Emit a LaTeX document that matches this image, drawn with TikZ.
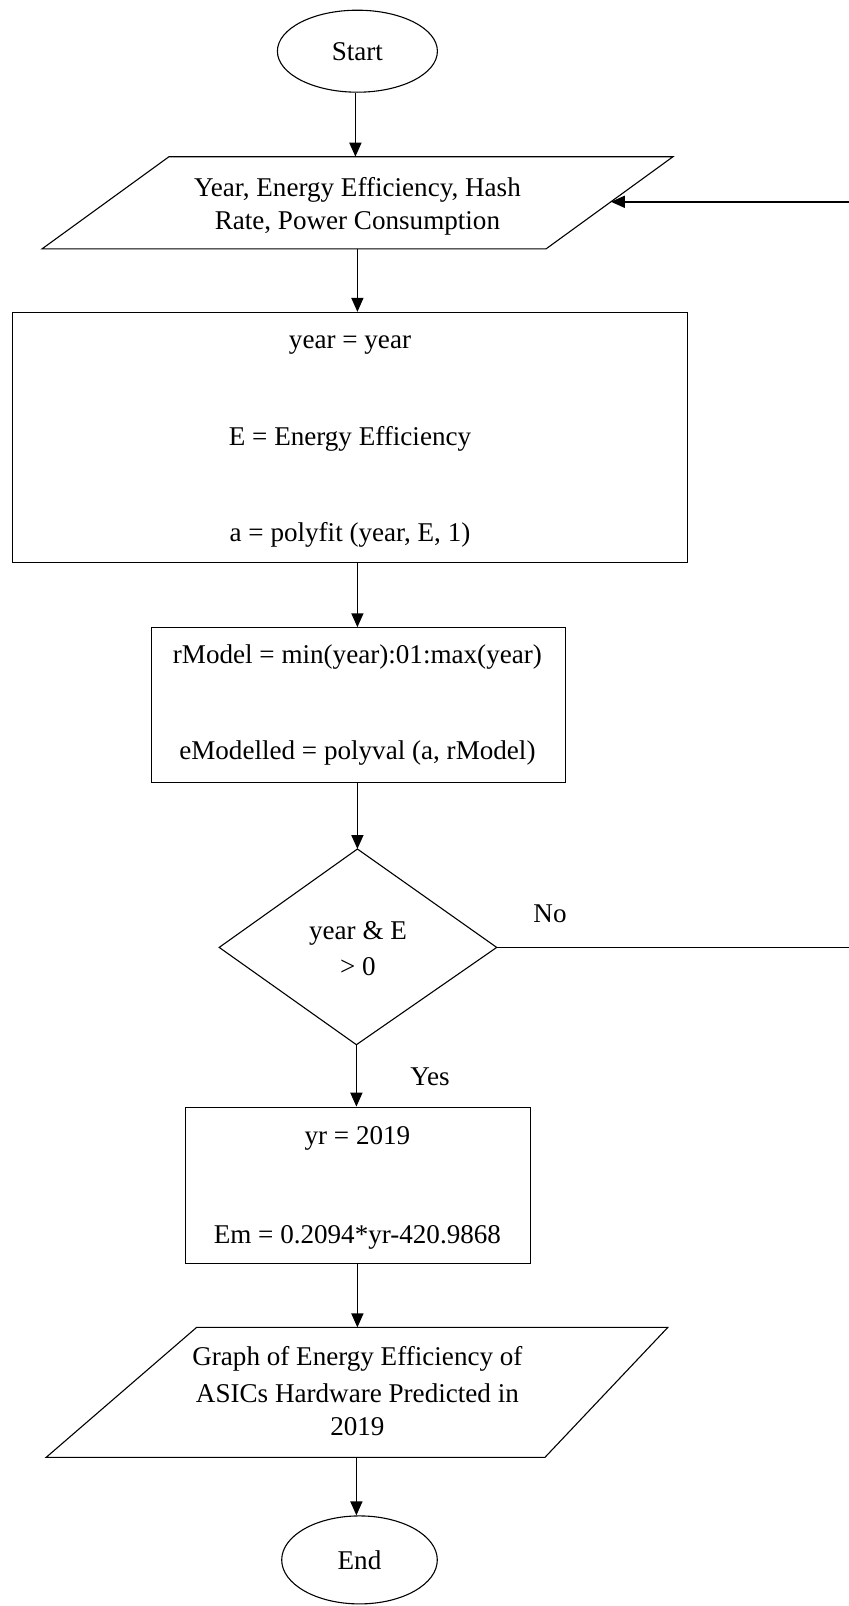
\documentclass[tikz,border=0pt]{standalone}
\usepackage{fontspec}
\setmainfont{Liberation Serif}
\usetikzlibrary{shapes.geometric,arrows.meta}
\begin{document}
\begin{tikzpicture}[x=0.5pt,y=-0.5pt,
  shp/.style={draw=black,line width=0.55pt},
  arr/.style={draw=black,line width=0.8pt,-{Triangle[length=7pt,width=6pt]}},
  lne/.style={draw=black,line width=0.8pt},
  txt/.style={inner sep=0pt,yshift=-2pt,font=\fontsize{13.55pt}{17pt}\selectfont},
  term/.style={shp,ellipse,inner sep=0pt,font=\fontsize{13.55pt}{17pt}\selectfont}]
\useasboundingbox (0,0) rectangle (848,1606);
% Start
\node[term,minimum width=80pt,minimum height=41pt] (start) at (357.4,51.2) {Start};
% Input parallelogram
\coordinate (p1tl) at (169,156.7); \coordinate (p1tr) at (673,156.7);
\coordinate (p1br) at (546,248.9); \coordinate (p1bl) at (42,248.9);
\draw[shp] (p1tl) -- (p1tr) -- (p1br) -- (p1bl) -- cycle;
\node[txt] (in1) at (357.4,185.4) {Year, Energy Efficiency, Hash};
\node[txt] (in2) at (357.4,219.2) {Rate, Power Consumption};
\coordinate (p1top) at (355.4,156.7);
\coordinate (p1bot) at (357.4,248.9);
\coordinate (p1in) at (610.9,201.8);
% Rect 1
\node[shp,minimum width=337.45pt,minimum height=124.95pt,inner sep=0pt] (r1) at (349.75,437.35) {};
\node[txt] (r1a) at (350,341) {year = year};
\node[txt] (r1b) at (350,435.3) {E = Energy Efficiency};
\node[txt] (r1c) at (350,530.5) {a = polyfit (year, E, 1)};
% Rect 2
\node[shp,minimum width=206.9pt,minimum height=77.35pt,inner sep=0pt] (r2) at (358.5,705.15) {};
\node[txt] (r2a) at (357.4,653.4) {rModel = min(year):01:max(year)};
\node[txt] (r2b) at (357.4,748.7) {eModelled = polyval (a, rModel)};
% Decision
\coordinate (dt) at (357.4,849); \coordinate (dr) at (496.7,947.4);
\coordinate (db) at (356.4,1044.7); \coordinate (dl) at (219.2,947.4);
\draw[shp] (dt) -- (dr) -- (db) -- (dl) -- cycle;
\node[txt] (d1) at (358,929) {year \& E};
\node[txt] (d2) at (358,962.8) {> 0};
\node[txt] (no) at (550,909.5) {No};
\node[txt] (yes) at (430,1072.4) {Yes};
% Rect 3
\node[shp,minimum width=172.55pt,minimum height=78.35pt,inner sep=0pt] (r3) at (357.95,1185.55) {};
\node[txt] (r3a) at (357.4,1134.8) {yr = 2019};
\node[txt] (r3b) at (357.4,1233.1) {Em = 0.2094*yr-420.9868};
% Output parallelogram
\coordinate (p2tl) at (196.6,1327.4); \coordinate (p2tr) at (667.8,1327.4);
\coordinate (p2br) at (544.9,1457.4); \coordinate (p2bl) at (46.1,1457.4);
\draw[shp] (p2tl) -- (p2tr) -- (p2br) -- (p2bl) -- cycle;
\node[txt] (o1) at (357.4,1355) {Graph of Energy Efficiency of};
\node[txt] (o2) at (357.4,1388.8) {ASICs Hardware Predicted in};
\node[txt] (o3) at (357.4,1422.6) {2019};
\coordinate (p2top) at (357.4,1327.4);
\coordinate (p2bot) at (356.4,1457.4);
% End
\node[term,minimum width=77.8pt,minimum height=44pt] (end) at (359.5,1559.9) {End};
% Connectors
\draw[arr] (start.south -| p1top) -- (p1top);
\draw[arr] (p1bot) -- (p1bot |- r1.north);
\draw[arr] (p1bot |- r1.south) -- (p1bot |- r2.north);
\draw[arr] (dt |- r2.south) -- (dt);
\draw[arr] (db) -- (db |- r3.north);
\draw[arr] (p2top |- r3.south) -- (p2top);
\draw[arr] (p2bot) -- (p2bot |- end.north);
\coordinate (loopa) at (858,947.4);
\coordinate (loopb) at (858,201.8);
\draw[lne] (dr) -- (loopa) -- (loopb);
\draw[arr] (loopb) -- (p1in);
\end{tikzpicture}
\end{document}
